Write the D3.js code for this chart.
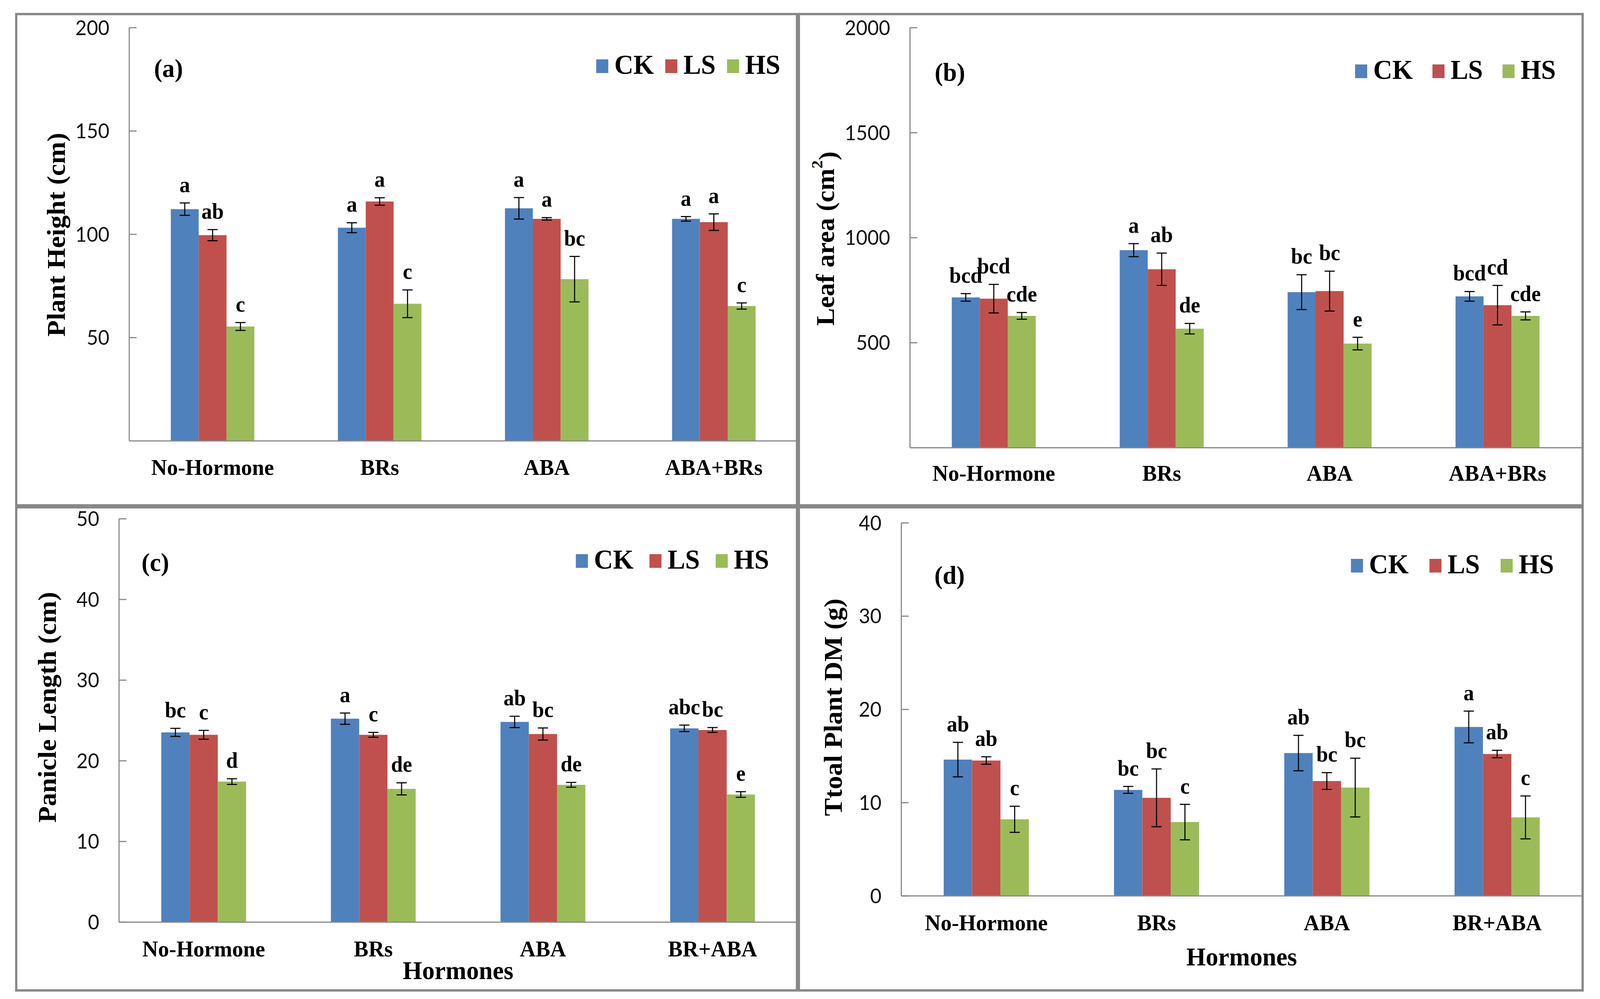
<!DOCTYPE html>
<html>
<head>
<meta charset="utf-8">
<script src="https://cdn.jsdelivr.net/npm/d3@7"></script>
<style>
  html, body { margin: 0; padding: 0; background: #fff; overflow: hidden; width: 100%; height: 100%; }
  svg { display: block; width: 100vw; height: 100vh; }
</style>
</head>
<body>
<svg id="chart" viewBox="0 0 4240 2558" preserveAspectRatio="none"></svg>
<script>
// ---------------- DATA ----------------
const seriesNames = ["CK", "LS", "HS"];
const seriesColors = ["#4F81BD", "#C0504D", "#9BBB59"];
const catsTop = ["No-Hormone", "BRs", "ABA", "ABA+BRs"];
const catsBottom = ["No-Hormone", "BRs", "ABA", "BR+ABA"];

// (a) Plant height (cm)
const heightCK = [112.1, 103.1, 112.5, 107.4];
const heightLS = [99.5, 115.8, 107.4, 105.8];
const heightHS = [55.3, 66.3, 78.2, 65.2];
const heightErrCK = [3.0, 2.4, 5.2, 1.1];
const heightErrLS = [2.7, 1.8, 0.6, 4.0];
const heightErrHS = [1.9, 6.7, 11.0, 1.5];
const heightLetCK = ["a", "a", "a", "a"];
const heightLetLS = ["ab", "a", "a", "a"];
const heightLetHS = ["c", "c", "bc", "c"];
const heightTicks = [50, 100, 150, 200];

// (b) Leaf area (cm2)
const leafCK = [715, 940, 740, 720];
const leafLS = [709, 849, 745, 678];
const leafHS = [627, 566, 495, 627];
const leafErrCK = [18, 31, 83, 23];
const leafErrLS = [68, 77, 95, 94];
const leafErrHS = [16, 25, 30, 19];
const leafLetCK = ["bcd", "a", "bc", "bcd"];
const leafLetLS = ["bcd", "ab", "bc", "cd"];
const leafLetHS = ["cde", "de", "e", "cde"];
const leafTicks = [500, 1000, 1500, 2000];

// (c) Panicle length (cm)
const panicleCK = [23.5, 25.2, 24.8, 24.0];
const panicleLS = [23.2, 23.2, 23.3, 23.8];
const panicleHS = [17.4, 16.5, 17.0, 15.8];
const panicleErrCK = [0.5, 0.7, 0.7, 0.4];
const panicleErrLS = [0.55, 0.3, 0.75, 0.3];
const panicleErrHS = [0.35, 0.75, 0.3, 0.35];
const panicleLetCK = ["bc", "a", "ab", "abc"];
const panicleLetLS = ["c", "c", "bc", "bc"];
const panicleLetHS = ["d", "de", "de", "e"];
const panicleTicks = [0, 10, 20, 30, 40, 50];

// (d) Total plant DM (g)
const dmCK = [14.6, 11.35, 15.3, 18.1];
const dmLS = [14.5, 10.5, 12.3, 15.2];
const dmHS = [8.2, 7.9, 11.6, 8.4];
const dmErrCK = [1.85, 0.37, 1.9, 1.7];
const dmErrLS = [0.4, 3.1, 0.9, 0.4];
const dmErrHS = [1.4, 1.9, 3.15, 2.3];
const dmLetCK = ["ab", "bc", "ab", "a"];
const dmLetLS = ["ab", "bc", "bc", "ab"];
const dmLetHS = ["c", "c", "bc", "c"];
const dmTicks = [0, 10, 20, 30, 40];

// ---------------- LAYOUT ----------------
const SERIF = "'Liberation Serif', 'Times New Roman', serif";
const SANS = "Lato, 'Open Sans', sans-serif";
const GRAY = "#888888";

const panels = [
  { cats: catsTop, vals: [heightCK, heightLS, heightHS], errs: [heightErrCK, heightErrLS, heightErrHS],
    lets: [heightLetCK, heightLetLS, heightLetHS], ticks: heightTicks, yMax: 200,
    x0: 342, x1: 2113, yZero: 1128.5, yTopPx: 70.5,
    title: ["Plant Height (cm)"], titleX: 149, titleY: 601, titleLen: 522,
    tag: "(a)", tagX: 408, tagY: 197, legX: 1580, legY: 189, legGap: 30, catDy: 88, xTitle: null },
  { cats: catsTop, vals: [leafCK, leafLS, leafHS], errs: [leafErrCK, leafErrLS, leafErrHS],
    lets: [leafLetCK, leafLetLS, leafLetHS], ticks: leafTicks, yMax: 2000,
    x0: 2411, x1: 4191, yZero: 1146, yTopPx: 70.5,
    title: ["Leaf area (cm", "2", ")"], titleX: 2188, titleY: 611, titleLen: null,
    tag: "(b)", tagX: 2477, tagY: 207, legX: 3591, legY: 202, legGap: 52, catDy: 85, xTitle: null },
  { cats: catsBottom, vals: [panicleCK, panicleLS, panicleHS], errs: [panicleErrCK, panicleErrLS, panicleErrHS],
    lets: [panicleLetCK, panicleLetLS, panicleLetHS], ticks: panicleTicks, yMax: 50,
    x0: 315, x1: 2113, yZero: 2360.7, yTopPx: 1328,
    title: ["Panicle Length (cm)"], titleX: 126, titleY: 1811, titleLen: 591,
    tag: "(c)", tagX: 375, tagY: 1462, legX: 1526, legY: 1456, legGap: 42, catDy: 88, xTitle: { y: 2507 } },
  { cats: catsBottom, vals: [dmCK, dmLS, dmHS], errs: [dmErrCK, dmErrLS, dmErrHS],
    lets: [dmLetCK, dmLetLS, dmLetHS], ticks: dmTicks, yMax: 40,
    x0: 2388, x1: 4193, yZero: 2293.6, yTopPx: 1338.5,
    title: ["Ttoal Plant DM (g)"], titleX: 2208, titleY: 1811, titleLen: 557,
    tag: "(d)", tagX: 2476, tagY: 1495, legX: 3580, legY: 1468, legGap: 55, catDy: 88, xTitle: { y: 2472 } }
];

const svg = d3.select("#chart");
svg.append("rect").attr("width", 4240).attr("height", 2558).attr("fill", "#fff");

panels.forEach(p => {
  const g = svg.append("g");
  const x = d3.scaleBand().domain(p.cats).range([p.x0, p.x1]).paddingInner(0.5).paddingOuter(0.25);
  const xs = d3.scaleBand().domain(seriesNames).range([0, x.bandwidth()]);
  const y = d3.scaleLinear().domain([0, p.yMax]).range([p.yZero, p.yTopPx]);

  // bars
  seriesNames.forEach((s, si) => {
    const rows = p.cats.map((c, ci) => ({ c, v: p.vals[si][ci], e: p.errs[si][ci], l: p.lets[si][ci] }));
    const sg = g.append("g");
    sg.selectAll("rect").data(rows).join("rect")
      .attr("x", d => x(d.c) + xs(s))
      .attr("y", d => y(d.v))
      .attr("width", xs.bandwidth())
      .attr("height", d => y(0) - y(d.v))
      .attr("fill", seriesColors[si]);
    const cx = d => x(d.c) + xs(s) + xs.bandwidth() / 2;
    // error bars
    const eb = sg.selectAll("g.err").data(rows).join("g").attr("class", "err")
      .attr("stroke", "#000").attr("stroke-width", 2.8);
    eb.append("line").attr("x1", cx).attr("x2", cx).attr("y1", d => y(d.v - d.e)).attr("y2", d => y(d.v + d.e));
    eb.append("line").attr("x1", d => cx(d) - 13.5).attr("x2", d => cx(d) + 13.5).attr("y1", d => y(d.v + d.e)).attr("y2", d => y(d.v + d.e));
    eb.append("line").attr("x1", d => cx(d) - 13.5).attr("x2", d => cx(d) + 13.5).attr("y1", d => y(d.v - d.e)).attr("y2", d => y(d.v - d.e));
    // significance letters
    sg.selectAll("text").data(rows).join("text")
      .attr("x", cx)
      .attr("y", d => y(d.v + d.e) - 28)
      .attr("text-anchor", "middle")
      .attr("font-family", SERIF).attr("font-weight", "bold").attr("font-size", 56)
      .attr("fill", "#000")
      .text(d => d.l);
  });

  // y axis (ticks inside)
  const ya = g.append("g").attr("transform", `translate(${p.x0},0)`)
    .call(d3.axisLeft(y).tickValues(p.ticks).tickSizeInner(-20).tickSizeOuter(0).tickPadding(52).tickFormat(d3.format("d")));
  ya.select(".domain").attr("stroke", GRAY).attr("stroke-width", 3);
  ya.selectAll(".tick line").attr("stroke", GRAY).attr("stroke-width", 3);
  ya.selectAll(".tick text").attr("font-family", SANS).attr("font-size", 52).attr("fill", "#111").attr("dy", "0.36em");

  // x axis
  const xa = g.append("g").attr("transform", `translate(0,${p.yZero})`)
    .call(d3.axisBottom(x).tickSize(0).tickSizeOuter(0));
  xa.select(".domain").attr("stroke", GRAY).attr("stroke-width", 3);
  xa.selectAll(".tick text").attr("y", p.catDy).attr("dy", 0)
    .attr("font-family", SERIF).attr("font-weight", "bold").attr("font-size", 58).attr("fill", "#000");

  // y title
  const yt = g.append("text")
    .attr("transform", `translate(${p.titleX},${p.titleY}) rotate(-90)`)
    .attr("text-anchor", "middle").attr("dy", "0.33em")
    .attr("font-family", SERIF).attr("font-weight", "bold").attr("font-size", 68).attr("fill", "#000");
  if (p.title.length === 1) {
    yt.text(p.title[0]);
    if (p.titleLen) yt.attr("textLength", p.titleLen).attr("lengthAdjust", "spacingAndGlyphs");
  } else {
    yt.append("tspan").text(p.title[0]);
    yt.append("tspan").attr("font-size", 42).attr("dy", "-0.75em").text(p.title[1]);
    yt.append("tspan").attr("dy", "0.55em").text(p.title[2]);
  }

  // x title
  if (p.xTitle) {
    g.append("text").attr("x", (p.x0 + p.x1) / 2).attr("y", p.xTitle.y)
      .attr("text-anchor", "middle")
      .attr("font-family", SERIF).attr("font-weight", "bold").attr("font-size", 66).attr("fill", "#000")
      .text("Hormones");
  }

  // panel tag
  g.append("text").attr("x", p.tagX).attr("y", p.tagY)
    .attr("font-family", SERIF).attr("font-weight", "bold").attr("font-size", 66).attr("fill", "#000")
    .text(p.tag);

  // legend
  let lx = p.legX;
  seriesNames.forEach((s, si) => {
    g.append("rect").attr("x", lx).attr("y", p.legY - 37).attr("width", 32).attr("height", 35)
      .attr("fill", seriesColors[si]);
    const t = g.append("text").attr("x", lx + 48).attr("y", p.legY)
      .attr("font-family", SERIF).attr("font-weight", "bold").attr("font-size", 70).attr("fill", "#000")
      .text(s);
    lx += 48 + t.node().getComputedTextLength() + p.legGap;
  });
});

// frame and dividers
svg.append("rect").attr("x", 43).attr("y", 36).attr("width", 4151).attr("height", 2500)
  .attr("fill", "none").attr("stroke", GRAY).attr("stroke-width", 6);
svg.append("line").attr("x1", 2114.5).attr("x2", 2114.5).attr("y1", 36).attr("y2", 2536)
  .attr("stroke", GRAY).attr("stroke-width", 11);
svg.append("line").attr("x1", 43).attr("x2", 4194).attr("y1", 1296.5).attr("y2", 1296.5)
  .attr("stroke", GRAY).attr("stroke-width", 11);
</script>
</body>
</html>
